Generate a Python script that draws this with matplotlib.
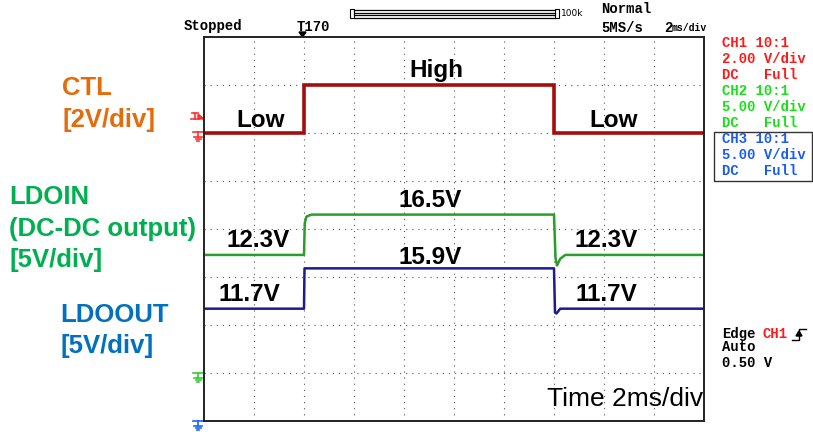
import matplotlib.pyplot as plt
import numpy as np
from matplotlib.patches import Rectangle, Polygon

# scope settings
time_per_div = 2.0          # ms/div
ctl_scale, ldoin_scale, ldoout_scale = 2.0, 5.0, 5.0     # V/div
ctl_gnd, ldoin_gnd, ldoout_gnd = 2.0, -3.0, -4.0         # ground position, div from centre

# waveforms (time in ms, value in V)
ctl_t = [0, 4.0, 4.0, 14.0, 14.0, 20]
ctl_v = [0, 0, 2.0, 2.0, 0, 0]

ldoin_t = [0, 4.0, 4.03, 4.1, 4.3, 14.0, 14.06, 14.12, 14.25, 14.45, 20]
ldoin_v = [12.3, 12.3, 15.6, 16.3, 16.5, 16.5, 12.0, 11.2, 11.9, 12.3, 12.3]

ldoout_t = [0, 4.0, 4.02, 14.0, 14.04, 14.1, 14.25, 20]
ldoout_v = [11.7, 11.7, 15.9, 15.9, 11.3, 11.2, 11.7, 11.7]

W, H = 813, 432


def to_div(v, scale, gnd):
    return np.array(v) / scale + gnd


def ground(ax, x, y, color):
    # little ground symbol
    ax.plot([x - 5, x + 5], [y - 5, y - 5], color=color, lw=1.2)
    ax.plot([x, x], [y - 5, y], color=color, lw=1.2)
    ax.plot([x - 4, x + 4], [y, y], color=color, lw=1.2)
    ax.plot([x - 2.5, x + 2.5], [y + 2, y + 2], color=color, lw=1.2)
    ax.plot([x - 1, x + 1], [y + 4, y + 4], color=color, lw=1.2)


fig = plt.figure(figsize=(W / 100, H / 100), dpi=100)

# overlay in pixel units for the scope screen furniture
ov = fig.add_axes([0, 0, 1, 1])
ov.set_xlim(0, W)
ov.set_ylim(H, 0)
ov.axis('off')

# graticule
ax = fig.add_axes([204 / W, 1 - 421 / H, 500 / W, 384 / H])
ax.set_xlim(0, 10 * time_per_div)
ax.set_ylim(-4, 4)
ax.set_xticks([])
ax.set_yticks([])
for s in ax.spines.values():
    s.set_color('#222222')
    s.set_linewidth(1.4)
for k in range(1, 10):
    ax.axvline(k * time_per_div, color='#555555', lw=0.8, ls=(0, (1, 4.5)))
for k in range(-3, 4):
    ax.axhline(k, color='#555555', lw=0.8, ls=(0, (1, 4.5)))

ax.plot(ctl_t, to_div(ctl_v, ctl_scale, ctl_gnd), color='#a50d0d', lw=2.6, solid_joinstyle='miter')
ax.plot(ldoin_t, to_div(ldoin_v, ldoin_scale, ldoin_gnd), color='#2a9e2a', lw=1.8)
ax.plot(ldoout_t, to_div(ldoout_v, ldoout_scale, ldoout_gnd), color='#1c1c8c', lw=1.8)

# value labels on the traces
lab = dict(fontsize=17.5, fontweight='bold', family='Liberation Sans', ha='center', va='center', color='black')
ax.text(9.3, to_div(ctl_v[2], ctl_scale, ctl_gnd) + 0.3, 'High', **lab)
ax.text(2.25, to_div(ctl_v[0], ctl_scale, ctl_gnd) + 0.27, 'Low', **lab)
ax.text(16.4, to_div(ctl_v[-1], ctl_scale, ctl_gnd) + 0.27, 'Low', **lab)
ax.text(9.05, to_div(ldoin_v[4], ldoin_scale, ldoin_gnd) + 0.3, '%.1fV' % ldoin_v[4], **lab)
ax.text(2.15, to_div(ldoin_v[0], ldoin_scale, ldoin_gnd) + 0.3, '%.1fV' % ldoin_v[0], **lab)
ax.text(16.1, to_div(ldoin_v[-1], ldoin_scale, ldoin_gnd) + 0.3, '%.1fV' % ldoin_v[-1], **lab)
ax.text(9.05, to_div(ldoout_v[2], ldoout_scale, ldoout_gnd) + 0.22, '%.1fV' % ldoout_v[2], **lab)
ax.text(1.8, to_div(ldoout_v[0], ldoout_scale, ldoout_gnd) + 0.29, '%.1fV' % ldoout_v[0], **lab)
ax.text(16.1, to_div(ldoout_v[-1], ldoout_scale, ldoout_gnd) + 0.29, '%.1fV' % ldoout_v[-1], **lab)
ax.text(19.95, -3.55, 'Time 2ms/div', fontsize=19, family='Liberation Sans', ha='right', va='center')

# channel names on the left
big = dict(fontsize=18.5, fontweight='bold', family='Liberation Sans', va='center', ha='left')
ov.text(62, 88, 'CTL', color='#e46c0a', **big)
ov.text(62, 120, '[2V/div]', color='#e46c0a', **big)
ov.text(9, 197, 'LDOIN', color='#00b050', **big)
ov.text(9, 229, '(DC-DC output)', color='#00b050', **big)
ov.text(9, 260, '[5V/div]', color='#00b050', **big)
ov.text(60, 315, 'LDOOUT', color='#0070c0', **big)
ov.text(60, 346, '[5V/div]', color='#0070c0', **big)

# status line
mono = dict(family='Liberation Mono', fontweight='bold', fontsize=10, va='center', ha='left')
ov.text(184, 26, 'Stopped', **mono)
ov.text(297, 27, 'T170', **mono)
ov.add_patch(Polygon([[299, 32], [306, 32], [302.5, 37]], closed=True, color='black'))
ov.text(601, 9, 'Normal', **mono)
ov.text(601, 28, '5MS/s', **mono)
ov.text(664, 28, '2', **mono)
ov.text(672, 28, 'ms/div', family='Liberation Mono', fontweight='bold', fontsize=7, va='center', ha='left')

# record length bar
ov.add_patch(Rectangle((350, 9), 4, 9, fill=False, lw=0.8, ec='black'))
ov.add_patch(Rectangle((555, 9), 4, 9, fill=False, lw=0.8, ec='black'))
for yy in [10, 13, 15, 17.5]:
    ov.plot([354, 555], [yy, yy], color='black', lw=0.9)
ov.text(561, 14, '100k', family='DejaVu Sans', fontsize=6.5, va='center', ha='left')
ov.text(455, 43, '<< Main:100k >>', family='DejaVu Sans', fontsize=6, color='#999999', va='center', ha='center')

# channel info panel
rows = [('CH1 10:1', '#ff1a1a'), ('2.00 V/div', '#ff1a1a'), ('DC   Full', '#ff1a1a'),
        ('CH2 10:1', '#18e018'), ('5.00 V/div', '#18e018'), ('DC   Full', '#18e018'),
        ('CH3 10:1', '#1a5cf0'), ('5.00 V/div', '#1a5cf0'), ('DC   Full', '#1a5cf0')]
for i, (s, c) in enumerate(rows):
    ov.text(722, 43 + 16 * i, s, color=c, **mono)
ov.add_patch(Rectangle((714, 132), 98, 49, fill=False, lw=1.0, ec='#333333'))

# trigger info
ov.text(722, 334, 'Edge', **mono)
ov.text(762, 334, 'CH1', color='#ff1a1a', **mono)
ov.plot([792, 799, 799, 806], [340, 340, 329, 329], color='black', lw=1.0)
ov.add_patch(Polygon([[796, 336], [802, 336], [799, 331]], closed=True, color='black'))
ov.text(722, 347, 'Auto', **mono)
ov.text(722, 363, '0.50 V', **mono)

# ground and trigger level markers at the left edge
ground(ov, 198, 137, '#ff3030')
ground(ov, 198, 378, '#30d030')
ground(ov, 198, 426, '#2060ff')
ov.plot([191, 199], [119, 119], color='#ff3030', lw=1.2)
ov.plot([195, 195], [113, 119], color='#ff3030', lw=1.2)
ov.plot([192, 198], [113, 113], color='#ff3030', lw=1.2)
ov.add_patch(Polygon([[198, 114], [204, 119], [198, 119]], closed=True, color='#ff3030'))

fig.savefig('out.png', dpi=100)
